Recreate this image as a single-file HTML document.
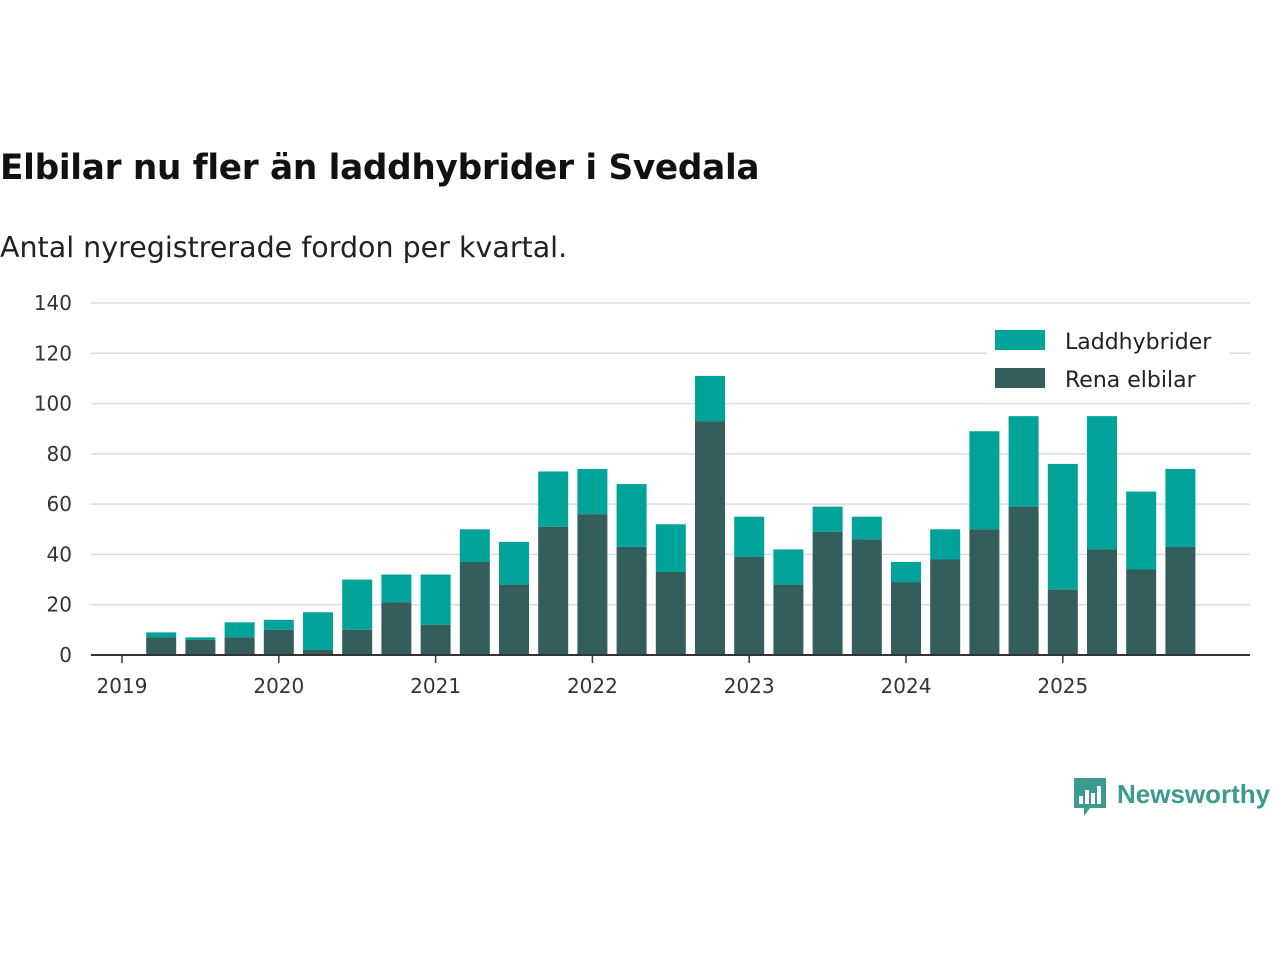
<!DOCTYPE html>
<html><head><meta charset="utf-8"><style>
body{margin:0;width:1280px;height:960px;background:#fff;font-family:"DejaVu Sans","Liberation Sans",sans-serif;overflow:hidden;position:relative}
#title{position:absolute;left:0;top:148px;font-size:34.3px;font-weight:bold;color:#111;letter-spacing:-0.3px}
#sub{position:absolute;left:0;top:231px;font-size:28.5px;color:#222}
svg{position:absolute;left:0;top:0}
svg text{font-family:"DejaVu Sans","Liberation Sans",sans-serif}
</style></head><body>
<div id="title">Elbilar nu fler än laddhybrider i Svedala</div>
<div id="sub">Antal nyregistrerade fordon per kvartal.</div>
<svg id="chart" width="1280" height="960"></svg>
<script>
const totals=[9,7,13,14,17,30,32,32,50,45,73,74,68,52,111,55,42,59,55,37,50,89,95,76,95,65,74];
const rena=[7,6,7,10,2,10,21,12,37,28,51,56,43,33,93,39,28,49,46,29,38,50,59,26,42,34,43];
const yTicks=[0,20,40,60,80,100,120,140];
const years=[2019,2020,2021,2022,2023,2024,2025];
const NS="http://www.w3.org/2000/svg";
const svg=document.getElementById('chart');
const x0=91,x1=1250,y0=655,yTop=303;
const y=v=>y0-(v/140)*(y0-yTop);
const xYear=t=>122+(t-2019)*156.8;
function mk(tag,attrs,parent){const e=document.createElementNS(NS,tag);for(const k in attrs)e.setAttribute(k,attrs[k]);(parent||svg).appendChild(e);return e;}
yTicks.forEach(v=>{
  const g=mk('line',{x1:x0,x2:x1,y1:y(v),y2:y(v),stroke:'#ddd','stroke-width':1.5});
  
  
  const t=mk('text',{x:72,y:y(v)+7,'text-anchor':'end','font-size':20,fill:'#333'});
  t.textContent=v;
  
  
});
totals.forEach((tot,i)=>{
  const cx=xYear(2019.25+i*0.25),w=30;
  const a=mk('rect',{x:cx-w/2,y:y(tot),width:w,height:y(rena[i])-y(tot),fill:'#00a39a'});
  
  
  const b=mk('rect',{x:cx-w/2,y:y(rena[i]),width:w,height:y0-y(rena[i]),fill:'#335e5b'});
  
  
});
const ax=mk('line',{x1:x0,x2:x1,y1:y0,y2:y0,stroke:'#333','stroke-width':2});


years.forEach(yr=>{
  const xx=xYear(yr);
  const tk=mk('line',{x1:xx,x2:xx,y1:y0,y2:y0+8,stroke:'#333','stroke-width':1.5});
  
  
  const t=mk('text',{x:xx,y:693,'text-anchor':'middle','font-size':20,fill:'#333'});
  t.textContent=yr;
  
  
});
const lg=mk('g',{});


mk('rect',{x:987,y:322,width:243,height:81,fill:'#fff'},lg);
[['Laddhybrider','#00a39a',330],['Rena elbilar','#335e5b',368]].forEach(([n,c,yy])=>{
  const s=mk('rect',{x:995,y:yy,width:50,height:20,fill:c},lg);
  
  
  const t=mk('text',{x:1065,y:yy+19,'font-size':22,fill:'#222'},lg);
  t.textContent=n;
  
  
});
const logo=mk('g',{});


mk('path',{d:'M1074 778h32v30h-16l-6 8v-8h-10z',fill:'#3d9a8f'},logo);
[[1079,796,4,8],[1085,790,4,14],[1091,793,4,11],[1097,786,4,18]].forEach(r=>mk('rect',{x:r[0],y:r[1],width:r[2],height:r[3],fill:'#fff'},logo));
const lt=mk('text',{x:1117,y:803,style:'font-family:"Liberation Sans",sans-serif;font-size:26px;font-weight:bold;fill:#3d9a8f'},logo);
lt.textContent='Newsworthy';
</script>
</body></html>
